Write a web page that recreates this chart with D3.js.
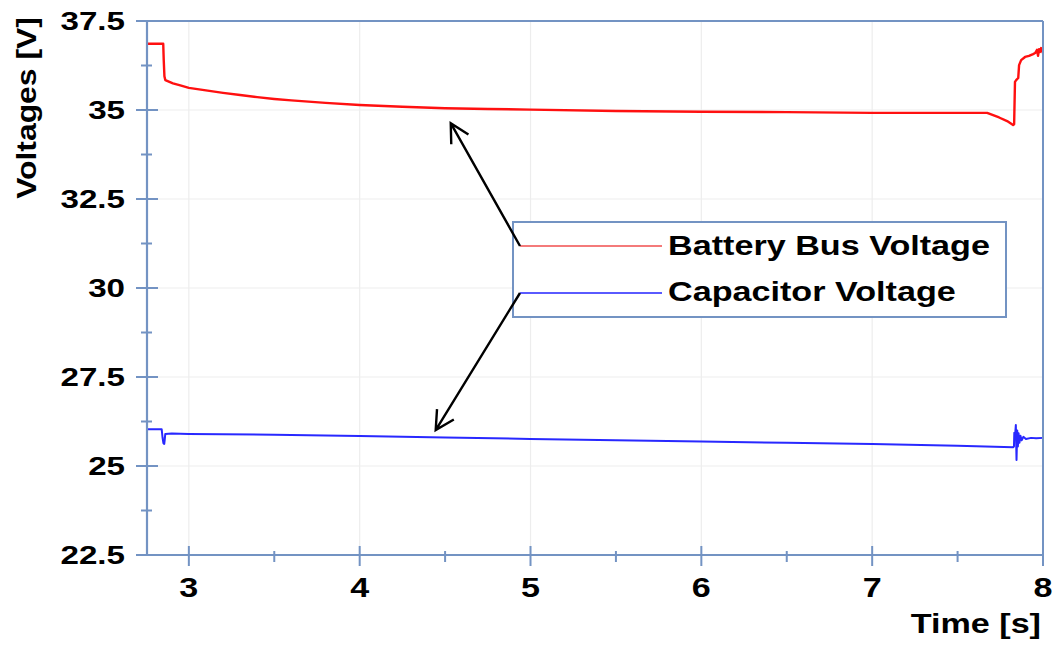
<!DOCTYPE html>
<html>
<head>
<meta charset="utf-8">
<script src="https://cdn.jsdelivr.net/npm/d3@7"></script>
<style>
  html, body { margin: 0; padding: 0; background: #ffffff; }
  svg { display: block; }
  text { font-family: "Liberation Sans", Arial, sans-serif; font-weight: bold; fill: #000; }
</style>
</head>
<body>
<svg id="chart" width="1056" height="646"></svg>
<script>
// ---- measured series (time in s, voltage in V) ----
const batteryTime = [2.755, 2.850, 2.853, 2.857, 2.862, 2.907, 2.95, 3.00, 3.10, 3.20, 3.30, 3.40,
  3.50, 3.60, 3.80, 4.00, 4.25, 4.50, 4.75, 5.00, 5.50, 6.00, 6.50, 7.00, 7.40, 7.673, 7.743, 7.79,
  7.825, 7.831, 7.836, 7.843, 7.855, 7.860, 7.872, 7.895, 7.918, 7.942, 7.954, 7.965, 7.971,
  7.977, 7.983, 7.989, 8.0];
const batteryVolt = [36.86, 36.86, 36.40, 35.95, 35.84, 35.75, 35.69, 35.62, 35.55, 35.48, 35.42, 35.36,
  35.31, 35.27, 35.20, 35.14, 35.09, 35.05, 35.03, 35.01, 34.97, 34.95, 34.94, 34.92, 34.92, 34.92, 34.79, 34.69,
  34.58, 34.60, 35.79, 35.84, 35.90, 36.26, 36.40, 36.49, 36.52, 36.57, 36.60, 36.69, 36.52,
  36.71, 36.63, 36.74, 36.60];

const capTime = [2.755, 2.841, 2.846, 2.851, 2.856, 2.859, 2.862, 2.90, 3.00, 3.50, 4.00, 4.50,
  5.00, 5.50, 6.00, 6.50, 7.00, 7.50, 7.825, 7.830, 7.832, 7.838, 7.841, 7.845, 7.849, 7.853,
  7.857, 7.862, 7.868, 7.875, 7.885, 7.90, 7.93, 7.96, 8.0];
const capVolt = [26.03, 26.03, 25.80, 25.64, 25.62, 25.75, 25.90, 25.91, 25.90, 25.88, 25.84, 25.80,
  25.76, 25.72, 25.69, 25.65, 25.62, 25.57, 25.53, 25.55, 25.93, 25.95, 26.15, 25.17, 26.00, 25.55,
  25.92, 25.65, 25.85, 25.72, 25.82, 25.76, 25.79, 25.78, 25.79];

const seriesNames = ["Battery Bus Voltage", "Capacitor Voltage"];
const seriesColors = ["#ff1010", "#2828ff"];
const legendColors = ["#f47a7a", "#5a5aff"];

const xDomain = [2.755, 8];
const yDomain = [22.5, 37.5];
const xTicks = [3, 4, 5, 6, 7, 8];
const xMinorTicks = [3.5, 4.5, 5.5, 6.5, 7.5];
const yTicks = [22.5, 25, 27.5, 30, 32.5, 35, 37.5];
const yMinorTicks = [23.75, 26.25, 28.75, 31.25, 33.75, 36.25];
const yTickLabels = ["22.5", "25", "27.5", "30", "32.5", "35", "37.5"];

const xLabel = "Time [s]";
const yLabel = "Voltages [V]";

// annotation arrow tips, in data units
const arrowTips = [[4.533, 34.63], [4.445, 26.01]];

// ---- layout ----
const svg = d3.select("#chart");
const plot = { left: 147, right: 1043, top: 21, bottom: 555 };
const axisColor = "#7393c3";
const gridColor = "#ededed";
const stretch = 1.22;

const x = d3.scaleLinear().domain(xDomain).range([plot.left, plot.right]);
const y = d3.scaleLinear().domain(yDomain).range([plot.bottom, plot.top]);

// grid
const grid = svg.append("g");
grid.selectAll("line.gx").data(xTicks.filter(t => t < 8)).join("line")
  .attr("x1", d => x(d)).attr("x2", d => x(d))
  .attr("y1", plot.top).attr("y2", plot.bottom)
  .attr("stroke", gridColor).attr("stroke-width", 1.2);
grid.selectAll("line.gy").data(yTicks.filter(t => t > 22.5 && t < 37.5)).join("line")
  .attr("x1", plot.left).attr("x2", plot.right)
  .attr("y1", d => y(d)).attr("y2", d => y(d))
  .attr("stroke", gridColor).attr("stroke-width", 1.2);

// data lines
const line = d3.line().x(d => x(d[0])).y(d => y(d[1]));
const batteryData = batteryTime.map((t, i) => [t, batteryVolt[i]]);
const capData = capTime.map((t, i) => [t, capVolt[i]]);

svg.append("path").datum(batteryData)
  .attr("d", line).attr("fill", "none")
  .attr("stroke", seriesColors[0]).attr("stroke-width", 2.4)
  .attr("stroke-linejoin", "round");
svg.append("path").datum(capData)
  .attr("d", line).attr("fill", "none")
  .attr("stroke", seriesColors[1]).attr("stroke-width", 2)
  .attr("stroke-linejoin", "round");

// frame (top and right)
svg.append("line").attr("x1", plot.left).attr("x2", plot.right)
  .attr("y1", plot.top).attr("y2", plot.top)
  .attr("stroke", axisColor).attr("stroke-width", 2);
svg.append("line").attr("x1", plot.right).attr("x2", plot.right)
  .attr("y1", plot.top).attr("y2", plot.bottom)
  .attr("stroke", axisColor).attr("stroke-width", 2);

// y axis
const yAxis = svg.append("g");
yAxis.append("line").attr("x1", plot.left).attr("x2", plot.left)
  .attr("y1", plot.top).attr("y2", plot.bottom)
  .attr("stroke", axisColor).attr("stroke-width", 2.2);
yAxis.selectAll("line.major").data(yTicks).join("line")
  .attr("x1", plot.left - 11).attr("x2", plot.left + 11)
  .attr("y1", d => y(d)).attr("y2", d => y(d))
  .attr("stroke", axisColor).attr("stroke-width", 2);
yAxis.selectAll("line.minor").data(yMinorTicks).join("line")
  .attr("class", "minor")
  .attr("x1", plot.left - 6).attr("x2", plot.left + 5)
  .attr("y1", d => y(d)).attr("y2", d => y(d))
  .attr("stroke", axisColor).attr("stroke-width", 2);
yAxis.selectAll("text").data(yTicks).join("text")
  .attr("transform", d => `translate(125,${y(d) + 9}) scale(1.3,1)`)
  .attr("text-anchor", "end")
  .attr("font-size", 25.5)
  .text((d, i) => yTickLabels[i]);

// x axis
const xAxis = svg.append("g");
xAxis.append("line").attr("x1", plot.left).attr("x2", plot.right)
  .attr("y1", plot.bottom).attr("y2", plot.bottom)
  .attr("stroke", axisColor).attr("stroke-width", 2.2);
xAxis.selectAll("line.major").data(xTicks).join("line")
  .attr("x1", d => x(d)).attr("x2", d => x(d))
  .attr("y1", plot.bottom - 9).attr("y2", plot.bottom + 11)
  .attr("stroke", axisColor).attr("stroke-width", 2);
xAxis.selectAll("line.minor").data(xMinorTicks).join("line")
  .attr("class", "minor")
  .attr("x1", d => x(d)).attr("x2", d => x(d))
  .attr("y1", plot.bottom - 4).attr("y2", plot.bottom + 7)
  .attr("stroke", axisColor).attr("stroke-width", 2);
xAxis.selectAll("text").data(xTicks).join("text")
  .attr("transform", d => `translate(${x(d)},597) scale(${stretch},1)`)
  .attr("text-anchor", "middle")
  .attr("font-size", 28)
  .text(d => d3.format("d")(d));

// axis titles
svg.append("text")
  .attr("transform", `translate(1041,633) scale(${stretch},1)`)
  .attr("text-anchor", "end").attr("font-size", 28)
  .text(xLabel);
svg.append("text")
  .attr("transform", "translate(36,108) rotate(-90) scale(1.18,1)")
  .attr("text-anchor", "middle").attr("font-size", 27)
  .text(yLabel);

// legend
const legend = { x: 513, y: 222, w: 493, h: 95 };
svg.append("rect")
  .attr("x", legend.x).attr("y", legend.y)
  .attr("width", legend.w).attr("height", legend.h)
  .attr("fill", "#ffffff").attr("stroke", axisColor).attr("stroke-width", 2);
const legendRows = [246, 293];
const legendTextBase = [255, 301];
seriesNames.forEach((name, i) => {
  svg.append("line")
    .attr("x1", 520).attr("x2", 662)
    .attr("y1", legendRows[i]).attr("y2", legendRows[i])
    .attr("stroke", legendColors[i]).attr("stroke-width", 2);
  svg.append("text")
    .attr("transform", `translate(668,${legendTextBase[i]}) scale(${stretch},1)`)
    .attr("font-size", 28)
    .text(name);
});

// arrows from the legend entries to their curves
const arrowLen = 21, arrowAngle = 28 * Math.PI / 180;
arrowTips.forEach((tip, i) => {
  const sx = 520, sy = legendRows[i];
  const tx = x(tip[0]), ty = y(tip[1]);
  const back = Math.atan2(sy - ty, sx - tx);
  const b1 = [tx + arrowLen * Math.cos(back + arrowAngle), ty + arrowLen * Math.sin(back + arrowAngle)];
  const b2 = [tx + arrowLen * Math.cos(back - arrowAngle), ty + arrowLen * Math.sin(back - arrowAngle)];
  const p = d3.path();
  p.moveTo(sx, sy); p.lineTo(tx, ty);
  p.moveTo(b1[0], b1[1]); p.lineTo(tx, ty); p.lineTo(b2[0], b2[1]);
  svg.append("path").attr("d", p.toString())
    .attr("fill", "none").attr("stroke", "#000").attr("stroke-width", 2.4)
    .attr("stroke-linejoin", "miter");
});
</script>
</body>
</html>
